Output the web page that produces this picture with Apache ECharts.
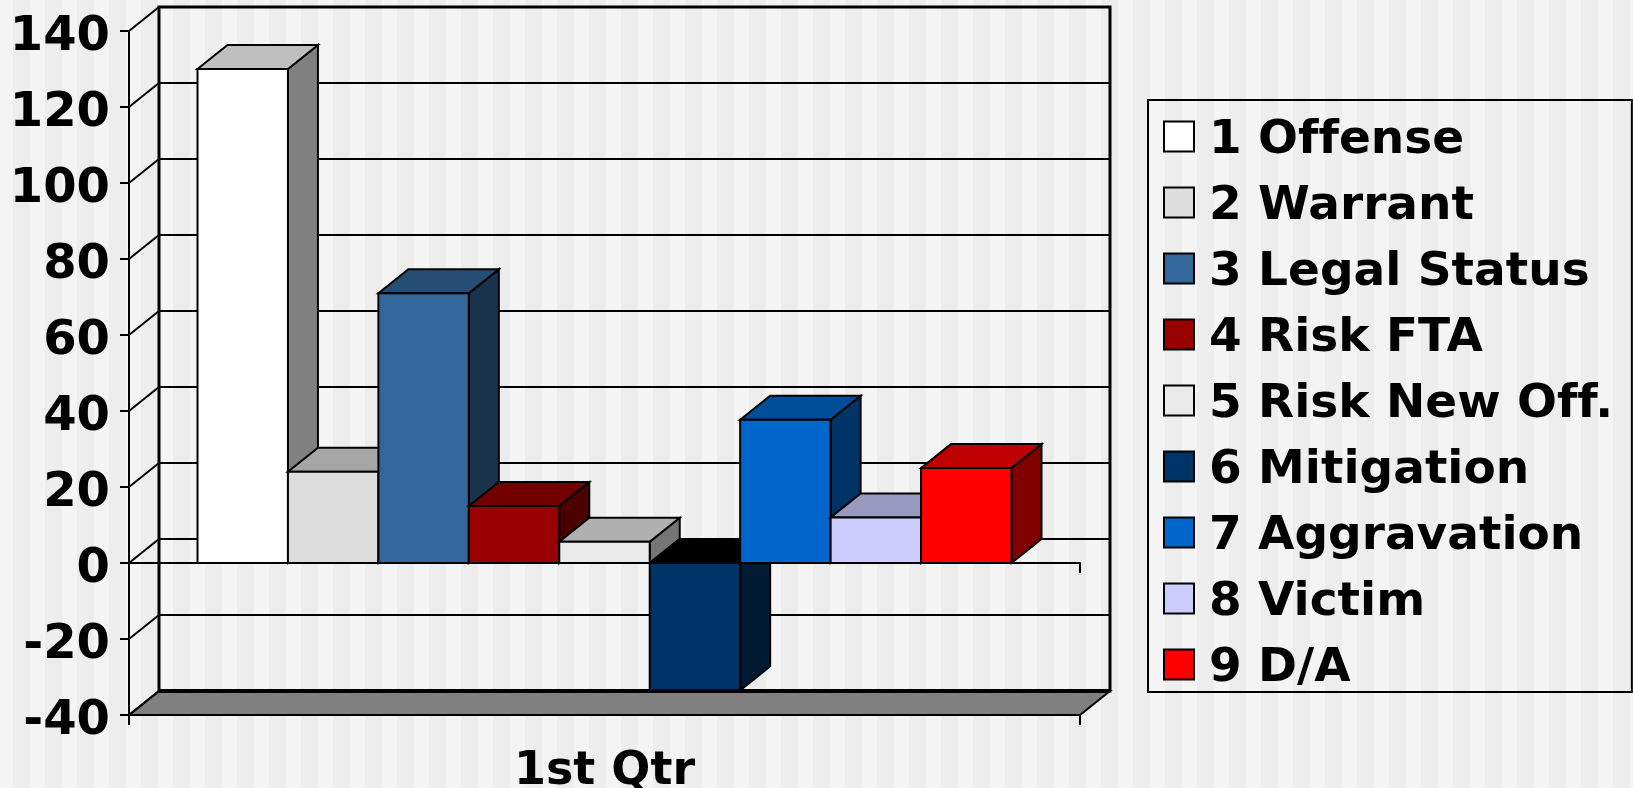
<!DOCTYPE html>
<html><head><meta charset="utf-8">
<style>html,body{margin:0;padding:0;background:#f4f4f4}#c{width:1633px;height:788px}</style>
<script src="https://cdn.jsdelivr.net/npm/echarts@6/dist/echarts.min.js"></script>
</head><body><div id="c"></div>
<script>
const categories = ['1st Qtr'];
const seriesNames = ['1 Offense','2 Warrant','3 Legal Status','4 Risk FTA','5 Risk New Off.','6 Mitigation','7 Aggravation','8 Victim','9 D/A'];
const seriesValues = [130, 24, 71, 15, 5.6, -33.5, 37.7, 12, 25];
const frontColors = ['#ffffff','#dddddd','#336699','#990000','#eaeaea','#003366','#0066cc','#ccccff','#ff0000'];
const topColors   = ['#bfbfbf','#a6a6a6','#264d73','#730000','#b0b0b0','#000000','#004d99','#9999bf','#bf0000'];
const sideColors  = ['#808080','#6f6f6f','#1a334d','#4d0000','#757575','#001a33','#003366','#666680','#800000'];
const yTicks = [-40,-20,0,20,40,60,80,100,120,140];

const DX = 30, DY = 24, FONT = 'DejaVu Sans', TICK = 10;
const BAR_SHARE = 814 / 951; // share of the category band taken by the bars

// the reference has no "ff" ligature
const nativeFillText = CanvasRenderingContext2D.prototype.fillText;
CanvasRenderingContext2D.prototype.fillText = function(){
  this.textRendering = 'optimizeSpeed';
  return nativeFillText.apply(this, arguments);
};

const tile = document.createElement('canvas');
tile.width = 32; tile.height = 4;
const t = tile.getContext('2d');
t.fillStyle = '#f4f4f4'; t.fillRect(0,0,32,4);
t.fillStyle = '#ededed'; t.fillRect(13,0,17,4);

function poly(points, fill, lw){
  return {type:'polygon', shape:{points}, style:{fill, stroke:'#000', lineWidth:lw===undefined?2:lw, lineJoin:'miter'}};
}
function seg(x1,y1,x2,y2,w){
  return {type:'line', shape:{x1,y1,x2,y2}, style:{stroke:'#000',lineWidth:w||2}};
}
const barSeries = seriesNames.map((name,i)=>({
  name, type:'custom', xAxisIndex:0, yAxisIndex:0, z:3, clip:false,
  itemStyle:{color:frontColors[i], borderColor:'#000', borderWidth:2},
  data:[[0, seriesValues[i]]],
  renderItem(params, api){
    const p = api.coord([api.value(0), api.value(1)]);
    const z = api.coord([api.value(0), 0]);
    const w = api.size([1,0])[0] * BAR_SHARE / seriesNames.length;
    const x0 = p[0] + (i - seriesNames.length/2) * w, x1 = x0 + w;
    const yt = Math.min(p[1], z[1]), yb = Math.max(p[1], z[1]);
    return {type:'group', children:[
      poly([[x1,yt],[x1+DX,yt-DY],[x1+DX,yb-DY],[x1,yb]], sideColors[i]),
      poly([[x0,yt],[x0+DX,yt-DY],[x1+DX,yt-DY],[x1,yt]], topColors[i]),
      poly([[x0,yt],[x1,yt],[x1,yb],[x0,yb]], frontColors[i])
    ]};
  }
}));

const frameSeries = {
  name:'frame', type:'custom', xAxisIndex:0, yAxisIndex:0, z:1, silent:true, clip:false,
  data: yTicks.map(v=>[0,v]),
  renderItem(params, api){
    const v = api.value(1);
    const p = api.coord([0, v]);
    const cs = params.coordSys;
    const x = cs.x, xr = cs.x + cs.width;
    const kids = [seg(x,p[1],x+DX,p[1]-DY)];
    if (v === yTicks[0]) {
      kids.unshift(poly([[x,p[1]],[x+DX,p[1]-DY],[xr+DX,p[1]-DY],[xr,p[1]]], '#808080', 2));
      kids.push(seg(x+DX,p[1]-DY,xr+DX,p[1]-DY,4));
      kids.push(seg(x,p[1],x,p[1]+TICK));
      kids.push(seg(xr,p[1],xr,p[1]+TICK));
    }
    if (v === 0) kids.push(seg(xr,p[1],xr,p[1]+TICK));
    return {type:'group', children:kids};
  }
};

const chart = echarts.init(document.getElementById('c'), null, {renderer:'canvas'});
chart.setOption({
  animation:false,
  backgroundColor:{image:tile, repeat:'repeat'},
  textStyle:{fontFamily:FONT},
  grid:[
    {left:129, top:31, width:951, height:684, containLabel:false, outerBoundsMode:'none'},
    {left:159, top:7, width:951, height:684, show:true, borderColor:'#000', borderWidth:3, backgroundColor:'transparent', outerBoundsMode:'none'}
  ],
  xAxis:[
    {type:'category', gridIndex:0, data:categories, position:'bottom', z:2,
     axisLine:{onZero:false, lineStyle:{color:'#000',width:2}},
     axisTick:{show:false},
     axisLabel:{fontFamily:FONT, fontWeight:'bold', fontSize:46, color:'#000', margin:34}},
    {type:'category', gridIndex:0, data:categories, position:'top', z:6,
     axisLine:{onZero:true, lineStyle:{color:'#000',width:2}},
     axisTick:{show:false},
     axisLabel:{show:false}},
    {type:'category', gridIndex:1, data:categories, show:false}
  ],
  yAxis:[
    {type:'value', gridIndex:0, min:-40, max:140, interval:20,
     splitLine:{show:false},
     axisLine:{show:true, onZero:false, lineStyle:{color:'#000',width:2}},
     axisTick:{show:true, length:9, lineStyle:{color:'#000',width:2}},
     axisLabel:{fontFamily:FONT, fontWeight:'bold', fontSize:48, color:'#000', margin:19, verticalAlign:'top', lineHeight:14}},
    {type:'value', gridIndex:1, min:-40, max:140, interval:20,
     axisLine:{show:false}, axisTick:{show:false}, axisLabel:{show:false},
     splitLine:{show:true, lineStyle:{color:'#000',width:2}}}
  ],
  legend:{
    show:true, orient:'vertical', left:1148, top:100,
    data:seriesNames, icon:'rect', itemWidth:30, itemHeight:30, itemGap:11,
    padding:[9,19,0,15], borderColor:'#000', borderWidth:2,
    selectedMode:false, align:'left',
    itemStyle:{borderColor:'#000', borderWidth:2},
    formatter:'{t|{name}}',
    textStyle:{fontFamily:FONT, fontWeight:'bold', fontSize:47, color:'#000',
      rich:{t:{fontFamily:FONT, fontWeight:'bold', fontSize:47, color:'#000', lineHeight:48, padding:[8,0,0,10]}}}
  },
  series:[frameSeries].concat(barSeries)
});
</script></body></html>
